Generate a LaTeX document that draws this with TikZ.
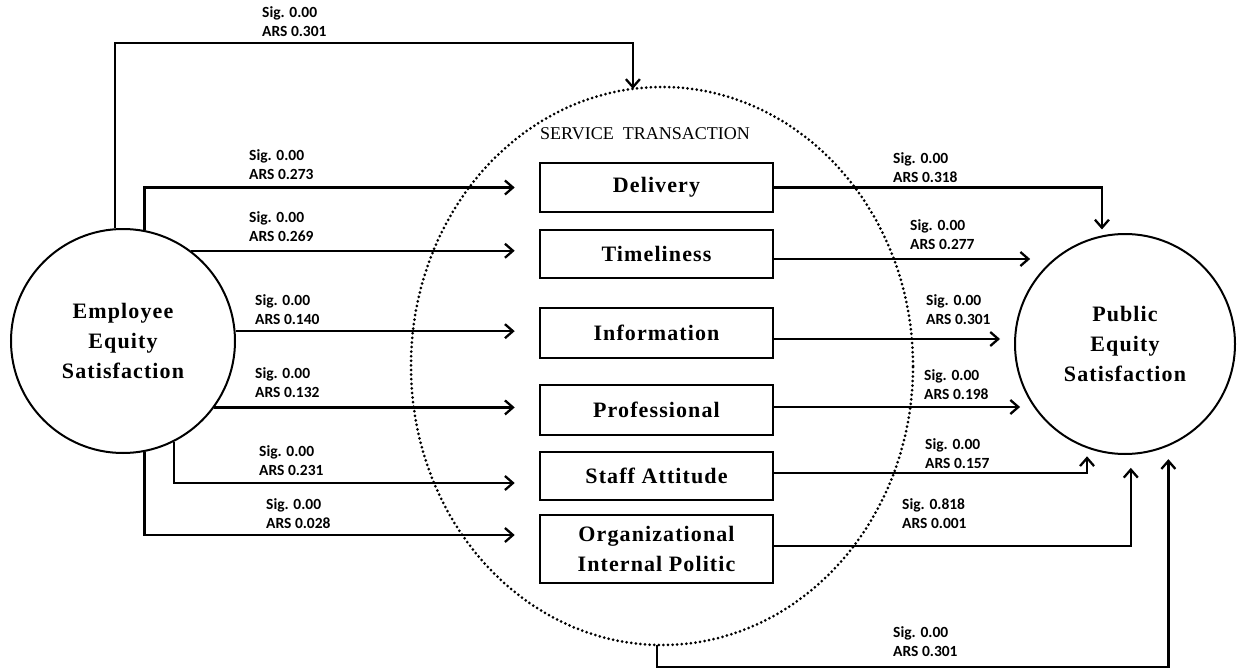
\documentclass[tikz,border=0pt]{standalone}
\usepackage{fontspec}
\setmainfont{Liberation Serif}
\newfontfamily\labfont{Carlito}
\usetikzlibrary{arrows.meta,shapes.geometric}
\begin{document}
\begin{tikzpicture}[x=1pt,y=-1pt,
  lab/.style={anchor=west,inner sep=0pt,align=left,font=\labfont\bfseries\fontsize{15.5}{19}\selectfont},
  box/.style={draw,line width=2.6pt,minimum width=233pt,inner sep=0pt,align=center,
    font=\bfseries\fontsize{22}{30}\selectfont\addfontfeature{LetterSpace=5}},
  bigc/.style={circle,draw,line width=2pt,inner sep=0pt,align=center,
    font=\bfseries\fontsize{22}{30}\selectfont\addfontfeature{LetterSpace=5}},
  arr/.style={line width=2.3pt,-{Straight Barb[length=8pt,width=14pt]}},
  inarr/.style={arr,shorten >=24pt}]
\useasboundingbox (0,0) rectangle (1237,669);

% service transaction ellipse
\node[ellipse,draw,line width=3pt,dash pattern=on 0pt off 4.6pt,line cap=round,
  minimum width=502pt,minimum height=558pt,inner sep=0pt,outer sep=0pt] (st) at (662,366) {};
\node[font=\fontsize{18}{20}\selectfont] (stl) at (645,134) {SERVICE~~TRANSACTION};

% circles
\node[bigc,minimum size=224pt] (ees) at (123,341) {Employee\\Equity\\Satisfaction};
\node[bigc,minimum size=220pt] (pes) at (1125,344) {Public\\Equity\\Satisfaction};

% boxes
\node[box,minimum height=49pt] (del) at (656.5,187.5) {Delivery};
\node[box,minimum height=48pt] (tim) at (656.5,254) {Timeliness};
\node[box,minimum height=50pt] (inf) at (656.5,333) {Information};
\node[box,minimum height=50pt] (pro) at (656.5,410) {Professional};
\node[box,minimum height=48pt] (sta) at (656.5,476) {Staff Attitude};
\node[box,minimum height=68pt] (org) at (656.5,549) {Organizational\\Internal Politic};

\coordinate (topc) at (400,43);
\coordinate (botc) at (900,667);

% left connectors
\draw[arr] (ees.94) |- (topc) -| (st.96);
\draw[inarr] (ees.79) |- (del.west);
\draw[inarr] (ees.53) -- (ees.53 -| tim.west);
\draw[inarr] (ees.5) -- (ees.5 -| inf.west);
\draw[inarr] (ees.-36) -- (ees.-36 -| pro.west);
\draw[inarr] (ees.-63.5) |- ([yshift=-7pt]sta.west);
\draw[inarr] (ees.-79) |- ([yshift=14pt]org.west);

% right connectors
\draw[arr,shorten >=6pt] (del.east) -| (pes.102);
\draw[arr,shorten >=25pt] ([yshift=-5pt]tim.east) -- ([yshift=-5pt]tim.east -| pes.129);
\draw[arr,shorten >=14pt] ([yshift=-6pt]inf.east) -- ([yshift=-6pt]inf.east -| pes.west);
\draw[arr,shorten >=14pt] ([yshift=3pt]pro.east) -- ([yshift=3pt]pro.east -| pes.215);
\draw[arr,shorten >=8pt] ([yshift=3pt]sta.east) -| (pes.-110);
\draw[arr,shorten >=13pt] ([yshift=3pt]org.east) -| (pes.-87);
\draw[arr,shorten >=13pt] (st.-91) |- (botc) -| (pes.-67);

% labels
\node[lab] (l0) at (262,22) {Sig. 0.00\\ARS 0.301};
\node[lab] (l1) at (249,165) {Sig. 0.00\\ARS 0.273};
\node[lab] (l2) at (249,227) {Sig. 0.00\\ARS 0.269};
\node[lab] (l3) at (255,310) {Sig. 0.00\\ARS 0.140};
\node[lab] (l4) at (255,383) {Sig. 0.00\\ARS 0.132};
\node[lab] (l5) at (259,461) {Sig. 0.00\\ARS 0.231};
\node[lab] (l6) at (266,514) {Sig. 0.00\\ARS 0.028};
\node[lab] (r1) at (893,168) {Sig. 0.00\\ARS 0.318};
\node[lab] (r2) at (910,235) {Sig. 0.00\\ARS 0.277};
\node[lab] (r3) at (926,310) {Sig. 0.00\\ARS 0.301};
\node[lab] (r4) at (924,385) {Sig. 0.00\\ARS 0.198};
\node[lab] (r5) at (925,454) {Sig. 0.00\\ARS 0.157};
\node[lab] (r6) at (902,514) {Sig. 0.818\\ARS 0.001};
\node[lab] (r7) at (893,642) {Sig. 0.00\\ARS 0.301};
\end{tikzpicture}
\end{document}
